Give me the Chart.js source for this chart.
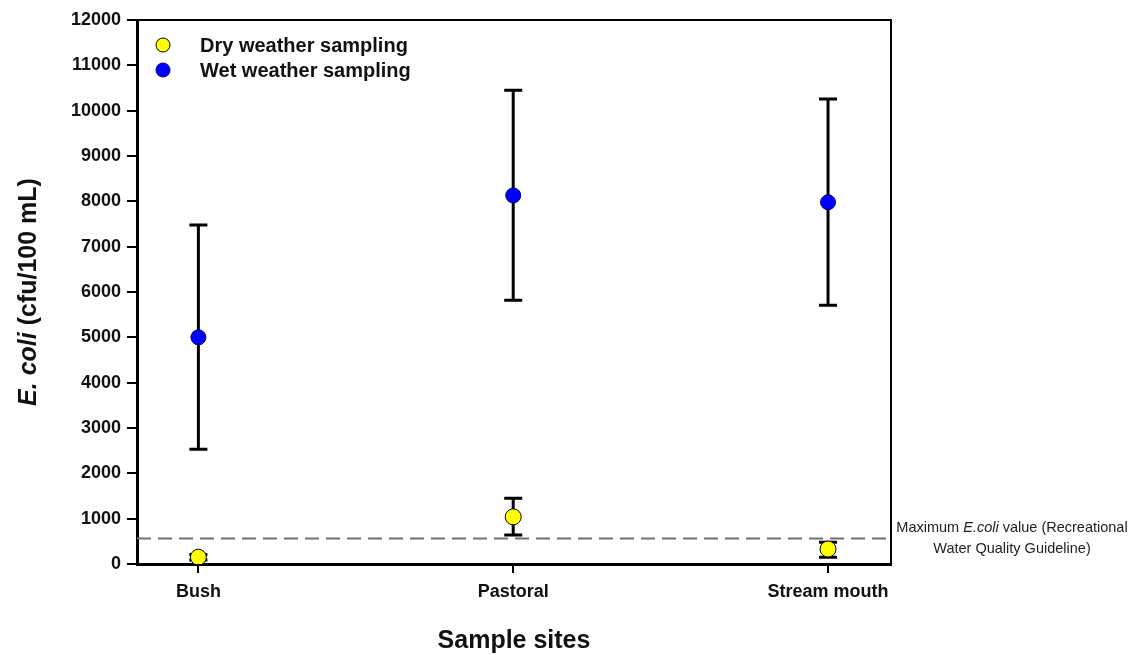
<!DOCTYPE html>
<html>
<head>
<meta charset="utf-8">
<script src="https://cdn.jsdelivr.net/npm/chart.js@4.4.1/dist/chart.umd.min.js"></script>
<style>
  html, body { margin: 0; padding: 0; background: #fff; }
  #wrap { width: 1134px; height: 655px; }
</style>
</head>
<body>
<div id="wrap"><canvas id="c" width="1134" height="655"></canvas></div>
<script>
const sites = ["Bush", "Pastoral", "Stream mouth"];
const yTicks = [0, 1000, 2000, 3000, 4000, 5000, 6000, 7000, 8000, 9000, 10000, 11000, 12000];

const dryMean = [150, 1040, 330];
const dryLow = [90, 640, 150];
const dryHigh = [210, 1450, 480];

const wetMean = [5000, 8130, 7980];
const wetLow = [2530, 5820, 5710];
const wetHigh = [7480, 10450, 10260];

const guideline = 560;
const legendItems = ["Dry weather sampling", "Wet weather sampling"];
const guideText = ["Maximum E.coli value (Recreational", "Water Quality Guideline)"];

const FONT = "'Liberation Sans', Arial, sans-serif";

const pts = (vals) => vals.map((v, i) => ({ x: i, y: v }));

const errorBars = {
  id: "errorBars",
  beforeDatasetsDraw(chart) {
    const { ctx, scales: { x, y } } = chart;
    const sets = [[dryLow, dryHigh], [wetLow, wetHigh]];
    ctx.save();
    ctx.strokeStyle = "#000";
    ctx.lineWidth = 3;
    sets.forEach(([lo, hi]) => {
      lo.forEach((l, i) => {
        const px = x.getPixelForValue(i);
        const y1 = y.getPixelForValue(l), y2 = y.getPixelForValue(hi[i]);
        ctx.beginPath();
        ctx.moveTo(px, y1); ctx.lineTo(px, y2);
        ctx.moveTo(px - 9, y1); ctx.lineTo(px + 9, y1);
        ctx.moveTo(px - 9, y2); ctx.lineTo(px + 9, y2);
        ctx.stroke();
      });
    });
    ctx.restore();
  }
};

const decorations = {
  id: "decorations",
  afterDraw(chart) {
    const { ctx, chartArea: a, scales: { x, y } } = chart;
    ctx.save();
    // top + right frame
    ctx.strokeStyle = "#000";
    ctx.lineWidth = 2;
    ctx.beginPath();
    ctx.moveTo(a.left, a.top); ctx.lineTo(a.right, a.top); ctx.lineTo(a.right, a.bottom);
    ctx.stroke();

    // legend
    const colors = ["#ffff00", "#0000ff"];
    legendItems.forEach((t, i) => {
      const ly = 45 + i * 25;
      ctx.beginPath();
      ctx.arc(163, ly, 7, 0, Math.PI * 2);
      ctx.fillStyle = colors[i];
      ctx.fill();
      ctx.lineWidth = 1;
      ctx.strokeStyle = i === 0 ? "#000" : "#000080";
      ctx.stroke();
      ctx.fillStyle = "#111";
      ctx.font = "bold 20px " + FONT;
      ctx.textBaseline = "middle";
      ctx.textAlign = "left";
      ctx.fillText(t, 200, ly + 1);
    });

    // guideline annotation
    ctx.fillStyle = "#222";
    ctx.textAlign = "left";
    const gy = y.getPixelForValue(guideline);
    const parts = ["Maximum ", "E.coli", " value (Recreational"];
    const fonts = ["14.5px " + FONT, "italic 14.5px " + FONT, "14.5px " + FONT];
    let total = 0;
    parts.forEach((p, i) => { ctx.font = fonts[i]; total += ctx.measureText(p).width; });
    let tx = 1012 - total / 2;
    parts.forEach((p, i) => { ctx.font = fonts[i]; ctx.fillText(p, tx, gy - 11); tx += ctx.measureText(p).width; });
    ctx.font = "14.5px " + FONT;
    ctx.textAlign = "center";
    ctx.fillText(guideText[1], 1012, gy + 10);

    // x title
    ctx.fillStyle = "#111";
    ctx.font = "bold 25px " + FONT;
    ctx.textAlign = "center";
    ctx.fillText("Sample sites", (a.left + a.right) / 2, 641);

    // y title
    ctx.translate(29, (a.top + a.bottom) / 2);
    ctx.rotate(-Math.PI / 2);
    const yp = ["E. coli", " (cfu/100 mL)"];
    const yf = ["italic bold 25px " + FONT, "bold 25px " + FONT];
    let w = 0;
    yp.forEach((p, i) => { ctx.font = yf[i]; w += ctx.measureText(p).width; });
    let sx = -w / 2;
    ctx.textAlign = "left";
    yp.forEach((p, i) => { ctx.font = yf[i]; ctx.fillText(p, sx, 0); sx += ctx.measureText(p).width; });
    ctx.restore();
  }
};

new Chart(document.getElementById("c"), {
  type: "scatter",
  data: {
    datasets: [
      {
        label: "guideline",
        type: "line",
        data: [{ x: -0.195, y: guideline }, { x: 2.2, y: guideline }],
        borderColor: "#707070",
        borderWidth: 2,
        borderDash: [14, 7],
        pointRadius: 0,
        order: 3
      },
      {
        label: legendItems[0],
        data: pts(dryMean),
        backgroundColor: "#ffff00",
        borderColor: "#000",
        borderWidth: 1,
        pointRadius: 8,
        order: 1
      },
      {
        label: legendItems[1],
        data: pts(wetMean),
        backgroundColor: "#0000ff",
        borderColor: "#000080",
        borderWidth: 1,
        pointRadius: 7.5,
        order: 2
      }
    ]
  },
  options: {
    responsive: false,
    animation: false,
    layout: { padding: { left: 0, right: 243, top: 20, bottom: 0 } },
    plugins: { legend: { display: false }, tooltip: { enabled: false } },
    scales: {
      x: {
        type: "linear",
        min: -0.195,
        max: 2.2,
        afterBuildTicks: (s) => { s.ticks = sites.map((_, i) => ({ value: i })); },
        afterFit: (s) => { s.height = 91; },
        ticks: {
          callback: (v) => sites[v],
          color: "#111",
          font: { family: FONT, size: 18, weight: "bold" },
          padding: 8,
          maxRotation: 0
        },
        grid: { drawOnChartArea: false, drawTicks: true, tickLength: 9, color: "#000", lineWidth: 2 },
        border: { color: "#000", width: 3 }
      },
      y: {
        min: 0,
        max: 12000,
        afterBuildTicks: (s) => { s.ticks = yTicks.map(v => ({ value: v })); },
        afterFit: (s) => { s.width = 137; },
        ticks: {
          callback: (v) => String(v),
          color: "#111",
          font: { family: FONT, size: 18, weight: "bold" },
          padding: 6
        },
        grid: { drawOnChartArea: false, drawTicks: true, tickLength: 10, color: "#000", lineWidth: 2 },
        border: { color: "#000", width: 3 }
      }
    }
  },
  plugins: [errorBars, decorations]
});
</script>
</body>
</html>
